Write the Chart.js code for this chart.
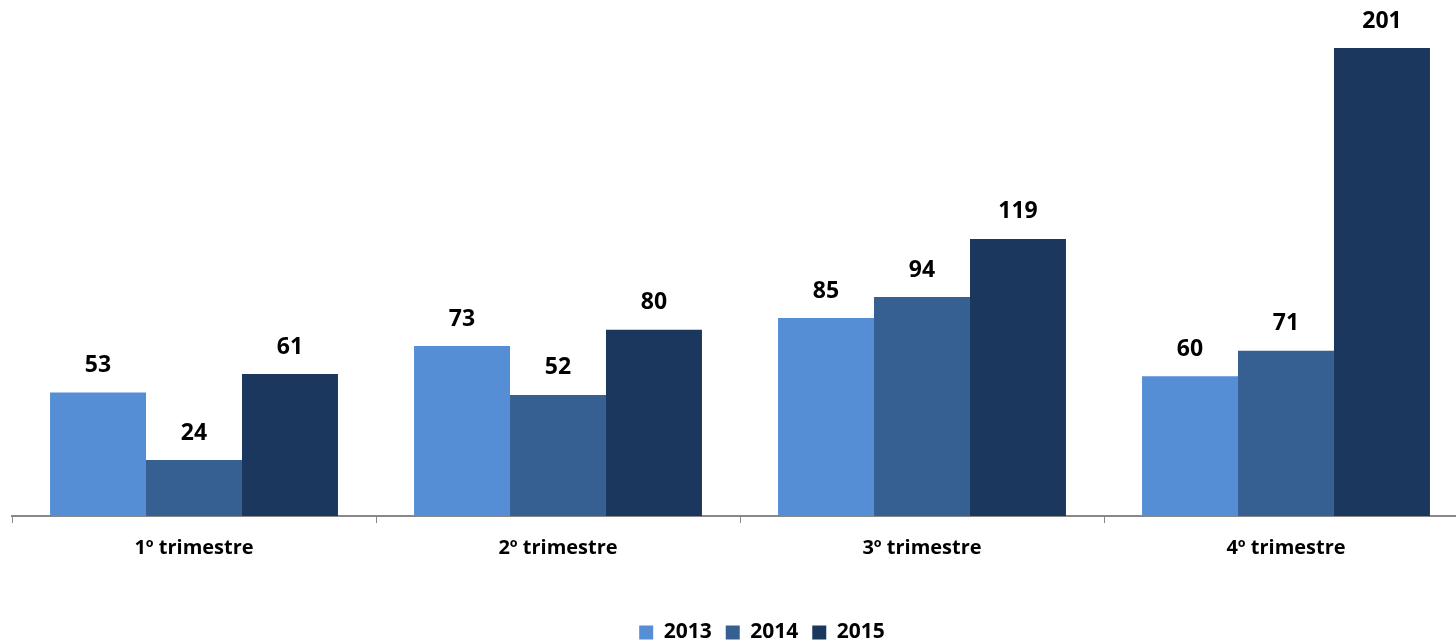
<!DOCTYPE html>
<html>
<head>
<meta charset="utf-8">
<script src="https://cdn.jsdelivr.net/npm/chart.js@4/dist/chart.umd.min.js"></script>
<style>
  html, body { margin: 0; padding: 0; overflow: hidden; background: #fff; }
  #wrap { width: 1524px; height: 641px; }
</style>
</head>
<body>
<div id="wrap"><canvas id="chart"></canvas></div>
<script>
const quarters = ["1º trimestre", "2º trimestre", "3º trimestre", "4º trimestre"];
const years = ["2013", "2014", "2015"];
const values2013 = [53, 73, 85, 60];
const values2014 = [24, 52, 94, 71];
const values2015 = [61, 80, 119, 201];
const colors = ["#558ED5", "#376092", "#1B375E"];

const FONT = "'Open Sans', sans-serif";

// value labels above each bar
const valueLabels = {
  id: "valueLabels",
  afterDatasetsDraw(chart) {
    const ctx = chart.ctx;
    ctx.save();
    ctx.font = "bold 23px " + FONT;
    ctx.fillStyle = "#000";
    ctx.textAlign = "center";
    ctx.textBaseline = "middle";
    chart.data.datasets.forEach((ds, i) => {
      chart.getDatasetMeta(i).data.forEach((bar, j) => {
        ctx.fillText(ds.data[j], bar.x, bar.y - 27);
      });
    });
    ctx.restore();
  },
};

// nudge the legend: the original is a bit right of the plot centre and lower down
const legendShift = {
  id: "legendShift",
  beforeDraw(chart) {
    const lg = chart.legend;
    const area = chart.chartArea;
    const h = lg.height;
    lg.left = area.left + 22;
    lg.right = area.right + 22;
    lg.top = 608;
    lg.bottom = lg.top + h;
  },
};

const config = {
  type: "bar",
  data: {
    labels: quarters,
    datasets: [
      { label: years[0], data: values2013, backgroundColor: colors[0] },
      { label: years[1], data: values2014, backgroundColor: colors[1] },
      { label: years[2], data: values2015, backgroundColor: colors[2] },
    ],
  },
  options: {
    responsive: true,
    maintainAspectRatio: false,
    animation: false,
    layout: { padding: { left: 12, right: 56, top: 27, bottom: 0 } },
    datasets: { bar: { barPercentage: 1, categoryPercentage: 0.791 } },
    plugins: {
      tooltip: { enabled: false },
      legend: {
        position: "bottom",
        labels: {
          boxWidth: 14,
          boxHeight: 14,
          padding: 14,
          color: "#000",
          font: { family: FONT, size: 21, weight: "bold" },
        },
      },
    },
    scales: {
      x: {
        border: { display: true, color: "#888", width: 2 },
        grid: { display: true, drawOnChartArea: false, drawTicks: true, tickLength: 7, color: "#888", offset: true },
        ticks: {
          color: "#000",
          padding: 13,
          font: { family: FONT, size: 20, weight: "bold" },
        },
        afterFit(scale) {
          scale.height = 80;
        },
      },
      y: {
        display: false,
        min: 0,
        max: 210,
      },
    },
  },
  plugins: [valueLabels, legendShift],
};

new Chart(document.getElementById("chart"), config);
</script>
</body>
</html>
